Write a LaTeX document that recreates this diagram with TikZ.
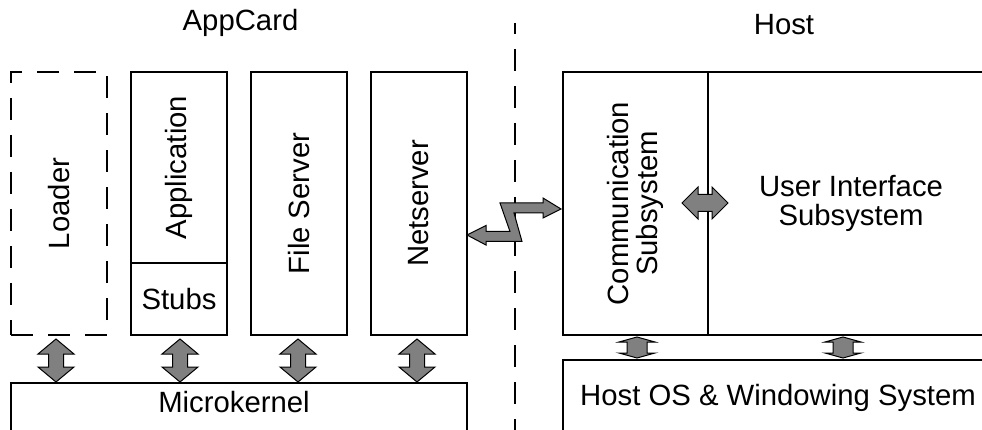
\documentclass[tikz,border=0pt]{standalone}
\usepackage{fontspec}
\setmainfont{Liberation Sans}
\usetikzlibrary{calc}

% vertical block arrow with two heads: top tip, bottom tip, head half-width, head length, shaft half-width
\newcommand{\vbiarrow}[5]{%
  \filldraw[blockarrow] (#1) -- ($(#1)+(#3,#4)$) -- ($(#1)+(#5,#4)$) -- ($(#2)+(#5,-#4)$)
    -- ($(#2)+(#3,-#4)$) -- (#2) -- ($(#2)+(-#3,-#4)$) -- ($(#2)+(-#5,-#4)$)
    -- ($(#1)+(-#5,#4)$) -- ($(#1)+(-#3,#4)$) -- cycle;}
% horizontal block arrow with two heads: left tip, right tip, head length, head half-height, shaft half-height
\newcommand{\hbiarrow}[5]{%
  \filldraw[blockarrow] (#1) -- ($(#1)+(#3,-#4)$) -- ($(#1)+(#3,-#5)$) -- ($(#2)+(-#3,-#5)$)
    -- ($(#2)+(-#3,-#4)$) -- (#2) -- ($(#2)+(-#3,#4)$) -- ($(#2)+(-#3,#5)$)
    -- ($(#1)+(#3,#5)$) -- ($(#1)+(#3,#4)$) -- cycle;}

\begin{document}
\begin{tikzpicture}[x=1pt,y=-1pt,
  box/.style={draw=black, line width=1.6pt, inner sep=0pt, outer sep=0pt, anchor=north west},
  loaderbox/.style={dash pattern=on 22pt off 15pt},
  lbl/.style={font=\fontsize{29.3}{28.5}\selectfont, inner sep=0pt, align=center},
  blockarrow/.style={fill=black!50, draw=black, line width=1pt, line join=miter},
  sepline/.style={draw=black, line width=1.6pt, dash pattern=on 22pt off 15pt, dash phase=11pt}]
\useasboundingbox (0,0) rectangle (982,430);
\clip (0,0) rectangle (982,430);

% AppCard side
\node[box, loaderbox, minimum width=96, minimum height=263] (loader) at (11,72) {};
\node[box, minimum width=96, minimum height=191] (app) at (131,72) {};
\node[box, minimum width=96, minimum height=72] (stubs) at (131,263) {};
\node[box, minimum width=96, minimum height=263] (fs) at (251,72) {};
\node[box, minimum width=96, minimum height=263] (net) at (371,72) {};
\node[box, minimum width=456, minimum height=100] (mk) at (11,383) {};

\node[lbl, rotate=90] (loadertxt) at (loader.center) {Loader};
\node[lbl, rotate=90] (apptxt) at (app.center) {Application};
\node[lbl] (stubstxt) at (stubs.center) {Stubs};
\node[lbl, rotate=90] (fstxt) at (fs.center) {File Server};
\node[lbl, rotate=90] (nettxt) at (net.center) {Netserver};
\node[lbl, anchor=base] (mktxt) at ($(mk.north west)+(223,29)$) {Microkernel};
\node[lbl, anchor=base] (appcard) at (240.5,31) {AppCard};

% Host side
\node[box, minimum width=145, minimum height=263] (comm) at (563,72) {};
\node[box, minimum width=286, minimum height=263] (ui) at (708,72) {};
\node[box, minimum width=460, minimum height=120] (hostos) at (563,360) {};

\node[lbl, rotate=90] (commtxt) at (comm.center) {Communication\\Subsystem};
\node[lbl] (uitxt) at (ui.center) {User Interface\\Subsystem};
\node[lbl, anchor=base] (hostostxt) at ($(hostos.north west)+(215,45)$) {Host OS \& Windowing System};
\node[lbl, anchor=base] (host) at (784,35) {Host};

% divider between the two sides
\coordinate (septop) at (515,23);
\coordinate (sepbot) at (515,450);
\draw[sepline] (septop) -- (sepbot);

% links from the servers down to the microkernel
\coordinate (lt) at ($(loader.south)+(-3,4)$);
\coordinate (lb) at ($(lt |- mk.north)+(0,-1)$);
\coordinate (at) at ($(stubs.south)+(1,4)$);
\coordinate (ab) at ($(at |- mk.north)+(0,-1)$);
\coordinate (ft) at ($(fs.south)+(-1,4)$);
\coordinate (fb) at ($(ft |- mk.north)+(0,-1)$);
\coordinate (nt) at ($(net.south)+(-2,4)$);
\coordinate (nb) at ($(nt |- mk.north)+(0,-1)$);
\vbiarrow{lt}{lb}{18}{15}{7.5}
\vbiarrow{at}{ab}{18}{15}{7.5}
\vbiarrow{ft}{fb}{18}{15}{7.5}
\vbiarrow{nt}{nb}{18}{15}{7.5}

% links from the host subsystems down to the host OS
\coordinate (ct) at ($(comm.south)+(1.5,2)$);
\coordinate (cb) at ($(ct |- hostos.north)+(0,-2)$);
\coordinate (ut) at ($(ui.south)+(-8,2)$);
\coordinate (ub) at ($(ut |- hostos.north)+(0,-2)$);
\vbiarrow{ct}{cb}{18}{5}{10}
\vbiarrow{ut}{ub}{18}{5}{10}

% link between communication and user interface subsystems
\coordinate (hl) at ($(comm.east)+(-26,-0.5)$);
\coordinate (hr) at ($(comm.east)+(20,-0.5)$);
\hbiarrow{hl}{hr}{16}{16}{8.5}

% zig-zag network link between netserver and communication subsystem
\coordinate (zl) at ($(net.east)+(0,31.5)$);
\coordinate (zr) at ($(comm.west)+(-2,5.5)$);
\filldraw[blockarrow] (zl) -- ($(zl)+(19,-9.5)$) -- ($(zl)+(19,-3.5)$) -- ($(zl)+(43,-3.5)$)
  -- ($(zl)+(33,-32)$) -- ($(zr)+(-18,-6)$) -- ($(zr)+(-18,-11)$) -- (zr)
  -- ($(zr)+(-18,9)$) -- ($(zr)+(-18,4)$) -- ($(zr)+(-47,4)$) -- ($(zl)+(55,6.5)$)
  -- ($(zl)+(19,6.5)$) -- ($(zl)+(19,10)$) -- cycle;
\end{tikzpicture}
\end{document}
